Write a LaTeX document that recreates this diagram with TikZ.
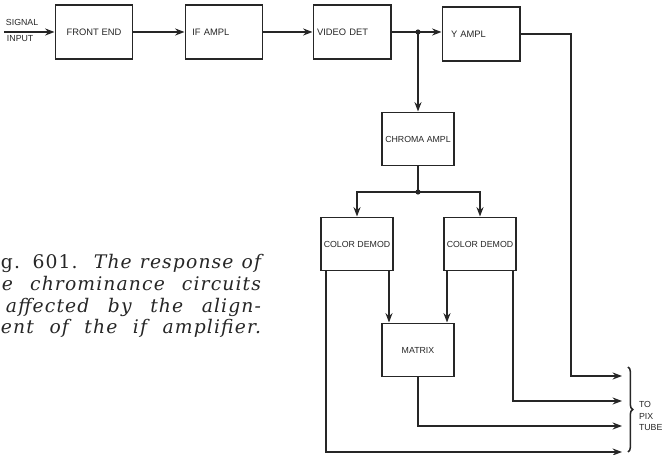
\documentclass[tikz,border=0pt]{standalone}
\usepackage{fontspec}
\newfontfamily\boxfont{Liberation Sans}
\newfontfamily\capfamily[LetterSpace=6]{DejaVu Serif}
\usepackage{tikz}
\usetikzlibrary{arrows.meta, calc, decorations.pathreplacing}

\newcommand{\capfont}{\capfamily\fontsize{16}{18}\selectfont}
\newcommand{\capline}[2][7.8cm]{\makebox[#1][s]{#2}}

\begin{document}
\begin{tikzpicture}[x=0.03cm, y=-0.03cm, >={Stealth[length=8pt, width=6pt]},
    line width=1.7pt, black!85,
    block/.style={draw, minimum width=2.31cm, minimum height=1.62cm, inner sep=1pt,
        font=\boxfont\fontsize{8}{9}\selectfont},
    small/.style={block, minimum width=2.16cm, minimum height=1.59cm,
        font=\boxfont\fontsize{7.5}{9}\selectfont},
    lefttext/.style={text width=#1, align=left},
    tag/.style={font=\boxfont\fontsize{7.5}{10}\selectfont, inner sep=0pt},
    caption/.style={font=\capfont, anchor=base west, inner sep=0pt}]

    \useasboundingbox (0,0) rectangle (662,455);

    % Top row
    \node[block] (front) at (94,32) {FRONT END};
    \node[block, lefttext=1.9cm] (ifampl) at (224,32) {IF AMPL};
    \node[block, lefttext=2.1cm] (vdet) at (352,32) {VIDEO DET};
    \node[block, lefttext=1.8cm] (yampl) at (481,34) {Y AMPL};

    % Chroma section
    \node[small] (chroma) at (418,139) {CHROMA AMPL};
    \node[small] (dl) at (357,244) {COLOR DEMOD};
    \node[small] (dr) at (480,244) {COLOR DEMOD};
    \node[small] (mx) at (418,350) {MATRIX};

    % Input
    \coordinate (sig) at (4,32);
    \node[tag, anchor=west] (signal) at (5,22) {SIGNAL};
    \node[tag, anchor=west] (input) at (6,39) {INPUT};

    % Junctions and outputs
    \coordinate (j1) at (418,32);
    \coordinate (j2) at (418,192);
    \coordinate (yturn) at (571,376);
    \coordinate (t1) at (622,376);
    \coordinate (t2) at (622,401);
    \coordinate (t3) at (622,426);
    \coordinate (t4) at (622,452);
    \coordinate (dl1) at ($(dl.south west)+(6,0)$);
    \coordinate (dl2) at ($(dl.south east)+(-5,0)$);
    \coordinate (dr1) at ($(dr.south west)+(4,0)$);
    \coordinate (dr2) at ($(dr.south east)+(-4,0)$);

    % Signal path
    \draw[->] (sig) -- (front);
    \draw[->] (front) -- (ifampl);
    \draw[->] (ifampl) -- (vdet);
    \draw[->] (vdet) -- (yampl.west |- j1);
    \draw[->] (j1) -- (chroma);
    \fill (j1) circle (2.2pt);

    \draw (chroma) -- (j2);
    \draw[->] (j2) -| (dl.north);
    \draw[->] (j2) -| (dr.north);
    \fill (j2) circle (2.2pt);

    \draw[->] (dl2) -- (dl2 |- mx.north);
    \draw[->] (dr1) -- (dr1 |- mx.north);

    % To picture tube
    \draw[->] (yampl) -| (yturn) -- (t1);
    \draw[->] (dr2) |- (t2);
    \draw[->] (mx) |- (t3);
    \draw[->] (dl1) |- (t4);

    \draw[decorate, decoration={brace, amplitude=4pt}, line width=1.3pt] (628,367) -- (628,452);
    \node[tag, anchor=west, align=left] (tube) at (638,416) {TO\\PIX\\TUBE};

    % Caption
    \node[caption] (cap1) at (0,269) {\capline{g. 601.\ \ \itshape The response of}};
    \node[caption] (cap2) at (1,291) {\capline[7.77cm]{\itshape e chrominance circuits}};
    \node[caption] (cap3) at (5,313) {\capline[7.65cm]{\itshape affected by the align-}};
    \node[caption] (cap4) at (0,334) {\capline{\itshape ent of the if amplifier.}};
\end{tikzpicture}
\end{document}
